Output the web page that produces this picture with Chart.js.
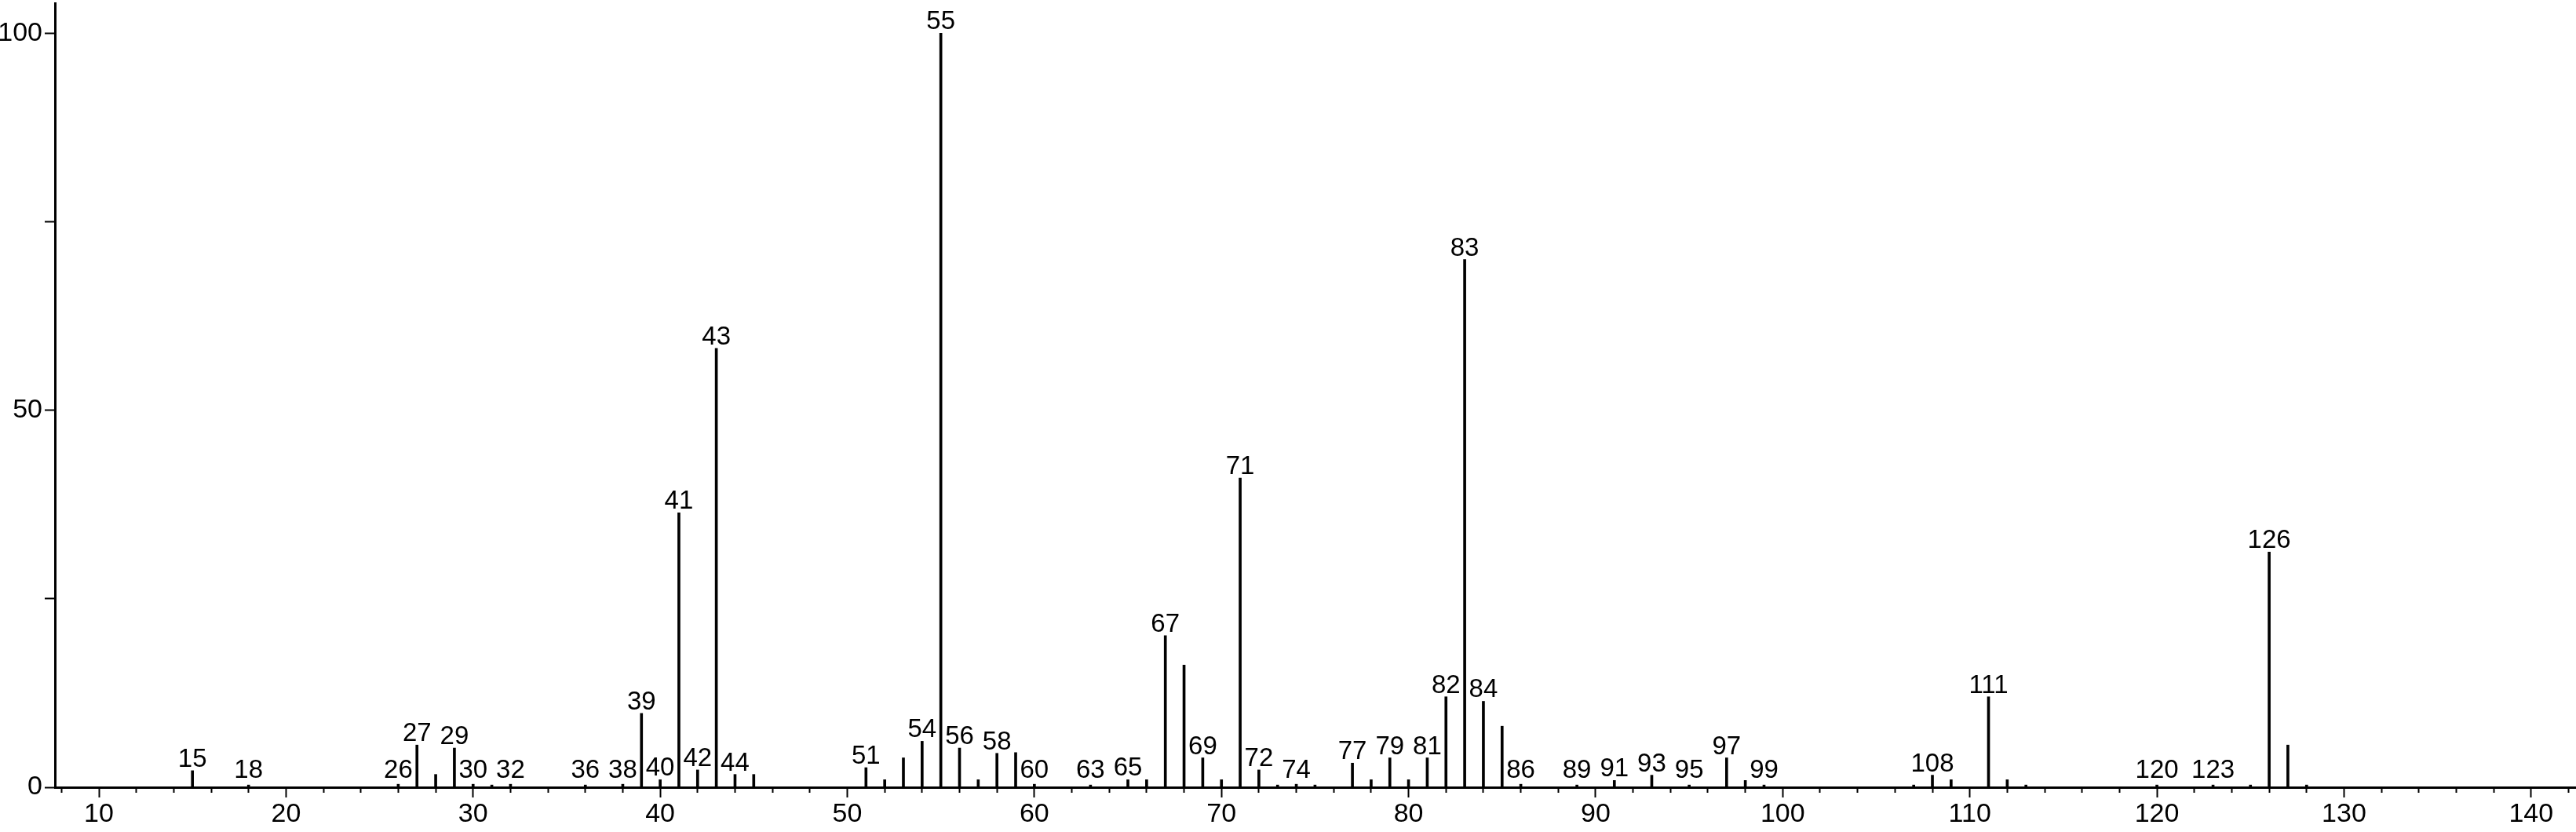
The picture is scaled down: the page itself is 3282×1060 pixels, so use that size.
<!DOCTYPE html>
<html><head><meta charset="utf-8">
<script src="https://cdn.jsdelivr.net/npm/chart.js@4.4.1/dist/chart.umd.min.js"></script>
<style>html,body{margin:0;padding:0;background:#fff;overflow:hidden}canvas{display:block}</style>
</head><body>
<canvas id="c" width="3282" height="1060"></canvas>
<script>
// m/z values and relative intensities
const masses = [15,18,26,27,28,29,30,31,32,36,38,39,40,41,42,43,44,45,
  51,52,53,54,55,56,57,58,59,60,63,65,66,67,68,69,70,71,72,73,74,75,
  77,78,79,80,81,82,83,84,85,86,89,91,93,95,97,98,99,
  107,108,109,111,112,113,120,123,125,126,127,128];
const intensities = [2.2,0.3,0.4,5.6,1.7,5.2,0.4,0.3,0.4,0.3,0.4,9.8,1.0,36.4,2.3,58.2,1.7,1.7,
  2.6,1.0,3.9,6.1,100,5.2,1.0,4.5,4.6,0.4,0.3,1.0,1.0,20.1,16.2,3.9,1.0,41.0,2.3,0.3,0.4,0.3,
  3.2,1.0,3.9,1.0,3.9,12.0,70.0,11.4,8.1,0.4,0.3,0.9,1.6,0.3,3.9,0.9,0.3,
  0.3,1.6,1.0,12.0,1.0,0.3,0.3,0.3,0.3,31.2,5.6,0.3];
const labeledMasses = [15,18,26,27,29,30,32,36,38,39,40,41,42,43,44,51,54,55,56,58,60,63,65,
  67,69,71,72,74,77,79,81,82,83,84,86,89,91,93,95,97,99,108,111,120,123,126];
const xLabelStep = 10;
const xMinorStep = 2;
const yTickStep = 25;
const yTickLabels = [0, 50, 100];

const FONT = '"Liberation Sans", Arial, Helvetica, sans-serif';

const peakLabels = {
  id: 'peakLabels',
  afterDatasetsDraw(chart) {
    const ctx = chart.ctx, xs = chart.scales.x, ys = chart.scales.y;
    const zero = ys.getPixelForValue(0);
    ctx.save();
    ctx.fillStyle = '#000';
    ctx.font = '33px ' + FONT;
    ctx.textAlign = 'center';
    ctx.textBaseline = 'alphabetic';
    labeledMasses.forEach(m => {
      const i = masses.indexOf(m);
      if (i < 0) return;
      const px = xs.getPixelForValue(m);
      const top = Math.min(ys.getPixelForValue(intensities[i]), zero - 7);
      ctx.fillText(String(m), px, top - 5);
    });
    ctx.restore();
  }
};

new Chart(document.getElementById('c'), {
  type: 'bar',
  data: {
    datasets: [{
      data: masses.map((m, i) => ({x: m, y: intensities[i]})),
      backgroundColor: '#000',
      borderWidth: 0,
      barThickness: 3
    }]
  },
  options: {
    responsive: false,
    animation: false,
    devicePixelRatio: 1,
    layout: {padding: {top: 4, right: 0, left: 0, bottom: 0}},
    plugins: {legend: {display: false}, tooltip: {enabled: false}},
    scales: {
      x: {
        type: 'linear',
        offset: false,
        min: 7.65,
        max: 142.4,
        border: {display: true, color: '#000', width: 3},
        grid: {
          offset: false,
          drawOnChartArea: false,
          drawTicks: true,
          tickLength: 13,
          tickWidth: 2,
          tickColor: '#000',
          tickBorderDash: (c) => (c.tick && Math.abs(c.tick.value % xLabelStep) < 1e-6) ? [] : [5, 100]
        },
        ticks: {
          stepSize: xMinorStep,
          includeBounds: false,
          autoSkip: false,
          maxRotation: 0,
          padding: 1,
          color: '#000',
          font: {family: FONT, size: 34},
          callback: (v) => (Math.abs(v % xLabelStep) < 1e-6) ? String(v) : ''
        },
        afterFit: (s) => { s.height = 57; s.paddingLeft = 0; s.paddingRight = 0; }
      },
      y: {
        type: 'linear',
        min: 0,
        max: 104,
        border: {display: true, color: '#000', width: 3},
        grid: {
          drawOnChartArea: false,
          drawTicks: true,
          tickLength: 13,
          tickWidth: 2,
          tickColor: '#000'
        },
        ticks: {
          stepSize: yTickStep,
          includeBounds: false,
          autoSkip: false,
          padding: 3,
          color: '#000',
          font: {family: FONT, size: 34},
          callback: (v) => yTickLabels.includes(v) ? String(v) : ''
        },
        afterFit: (s) => { s.width = 70; s.paddingTop = 0; s.paddingBottom = 0; }
      }
    }
  },
  plugins: [peakLabels]
});
</script>
</body></html>
